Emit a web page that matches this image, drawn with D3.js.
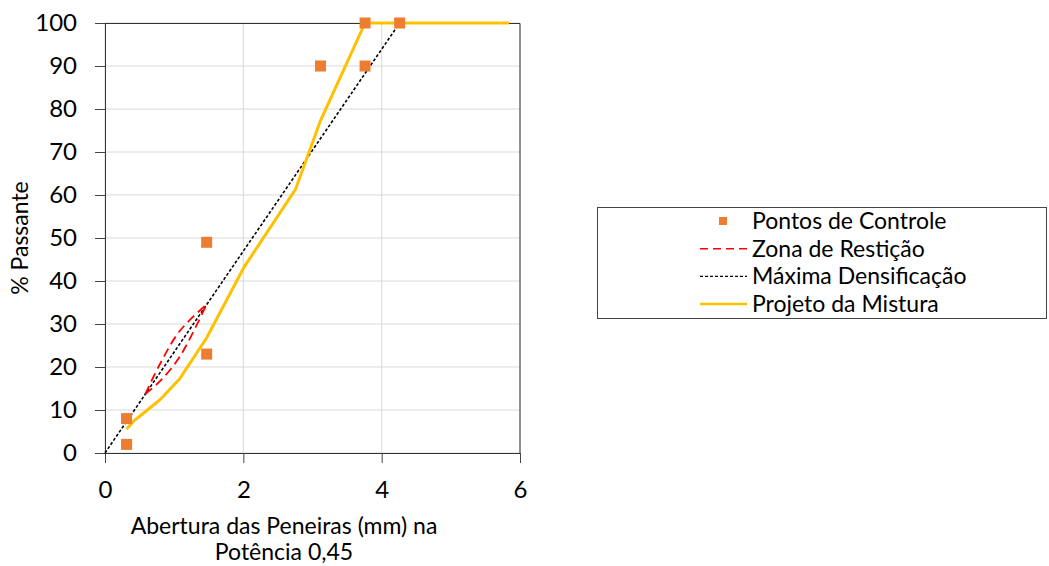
<!DOCTYPE html>
<html>
<head>
<meta charset="utf-8">
<script src="https://cdn.jsdelivr.net/npm/d3@7"></script>
<style>
  body { margin: 0; background: #fff; }
  text { font-family: Lato, "Open Sans", sans-serif; fill: #000; }
</style>
</head>
<body>
<div id="chart"></div>
<script>
// Control points (sieve opening ^0.45, % passing)
var controlX = [0.312, 0.312, 1.47, 1.47, 3.116, 3.76, 3.76, 4.26];
var controlY = [2, 8, 23, 49, 90, 90, 100, 100];

// Restricted zone (upper and lower bounds)
var zoneX = [0.582, 0.795, 1.077, 1.47];
var zoneUpper = [13.7, 20.7, 28.3, 34.6];
var zoneLower = [13.7, 16.7, 22.3, 34.6];

// Maximum density line
var densX = [0, 4.26];
var densY = [0, 100];

// Mix design
var mixX = [0.312, 0.426, 0.582, 0.795, 1.077, 1.47, 2.017, 2.754, 3.116, 3.76, 4.26, 5.84];
var mixY = [5.6, 7.6, 9.6, 12.4, 17.2, 26.8, 43.4, 61.3, 77.3, 100, 100, 100];

var xTicks = [0, 2, 4, 6];
var yTicks = [0, 10, 20, 30, 40, 50, 60, 70, 80, 90, 100];

var legendItems = ["Pontos de Controle", "Zona de Restição", "Máxima Densificação", "Projeto da Mistura"];

var svgWidth = 1049, svgHeight = 566;
var margin = { top: 23, left: 105, right: 529, bottom: 113 };
var chartWidth = svgWidth - margin.left - margin.right;
var chartHeight = svgHeight - margin.top - margin.bottom;

var svg = d3.select("#chart").append("svg")
  .attr("width", svgWidth)
  .attr("height", svgHeight);

var chartGroup = svg.append("g")
  .attr("transform", `translate(${margin.left}, ${margin.top})`);

var x = d3.scaleLinear().domain([0, 6]).range([0, chartWidth]);
var y = d3.scaleLinear().domain([0, 100]).range([chartHeight, 0]);

// gridlines
chartGroup.append("g")
  .selectAll("line.h")
  .data(yTicks)
  .enter().append("line")
  .attr("x1", 0).attr("x2", chartWidth)
  .attr("y1", d => y(d)).attr("y2", d => y(d))
  .attr("stroke", "#d9d9d9").attr("stroke-width", 1);
chartGroup.append("g")
  .selectAll("line.v")
  .data(xTicks)
  .enter().append("line")
  .attr("x1", d => x(d)).attr("x2", d => x(d))
  .attr("y1", 0).attr("y2", chartHeight)
  .attr("stroke", "#d9d9d9").attr("stroke-width", 1);

// plot border (top and right)
chartGroup.append("path")
  .attr("d", `M0,0.5H${chartWidth}V${chartHeight}`)
  .attr("fill", "none").attr("stroke", "#333").attr("stroke-width", 1);

// axes
var xAxis = d3.axisBottom(x).tickValues(xTicks).tickFormat(d3.format("d")).tickSize(10).tickPadding(18);
var yAxis = d3.axisLeft(y).tickValues(yTicks).tickSize(10).tickPadding(18);

var gx = chartGroup.append("g")
  .attr("transform", `translate(0, ${chartHeight})`)
  .call(xAxis);
var gy = chartGroup.append("g").call(yAxis);

[gx, gy].forEach(function(g) {
  g.select(".domain").attr("stroke", "#333");
  g.selectAll(".tick line").attr("stroke", "#444");
  g.selectAll(".tick text").style("font-size", "24px").style("font-family", "Lato, sans-serif").attr("fill", "#000");
});

// Max density (dotted black)
var densData = densX.map((d, i) => [d, densY[i]]);
chartGroup.append("path")
  .datum(densData)
  .attr("d", d3.line().x(d => x(d[0])).y(d => y(d[1])))
  .attr("fill", "none").attr("stroke", "#000")
  .attr("stroke-width", 1.6).attr("stroke-dasharray", "3,2");

// Restricted zone (red dashed)
[zoneUpper, zoneLower].forEach(function(bound) {
  chartGroup.append("path")
    .datum(zoneX.map((d, i) => [d, bound[i]]))
    .attr("d", d3.line().curve(d3.curveCatmullRom).x(d => x(d[0])).y(d => y(d[1])))
    .attr("fill", "none").attr("stroke", "#ff0000")
    .attr("stroke-width", 1.8).attr("stroke-dasharray", "9,5");
});

// Mix design (yellow)
chartGroup.append("path")
  .datum(mixX.map((d, i) => [d, mixY[i]]))
  .attr("d", d3.line().x(d => x(d[0])).y(d => y(d[1])))
  .attr("fill", "none").attr("stroke", "#ffc000")
  .attr("stroke-width", 3);

// Control points
var ms = 11;
chartGroup.selectAll("rect.cp")
  .data(controlX.map((d, i) => [d, controlY[i]]))
  .enter().append("rect")
  .attr("class", "cp")
  .attr("x", d => x(d[0]) - ms / 2)
  .attr("y", d => y(d[1]) - ms / 2)
  .attr("width", ms).attr("height", ms)
  .attr("fill", "#ed7d31");

// Axis labels
chartGroup.append("text")
  .attr("transform", "rotate(-90)")
  .attr("x", 0 - 215)
  .attr("y", -85)
  .attr("dy", "0.35em")
  .attr("text-anchor", "middle")
  .style("font-size", "23px")
  .text("% Passante");

var xt = svg.append("text")
  .attr("text-anchor", "middle")
  .style("font-size", "23px");
xt.append("tspan").attr("x", 284).attr("y", 534).text("Abertura das Peneiras (mm) na");
xt.append("tspan").attr("x", 284).attr("y", 560).text("Potência 0,45");

// Legend
var legend = svg.append("g");
legend.append("rect")
  .attr("x", 597.5).attr("y", 207.5)
  .attr("width", 449).attr("height", 111)
  .attr("fill", "#fff").attr("stroke", "#444").attr("stroke-width", 1);

var rowY = d3.scalePoint().domain(legendItems).range([221, 304]);
legendItems.forEach(function(name, i) {
  var cy = rowY(name);
  if (i === 0) {
    legend.append("rect").attr("x", 719).attr("y", cy - 4).attr("width", 8).attr("height", 8).attr("fill", "#ed7d31");
  } else {
    var st = [null,
      { c: "#ff0000", w: 1.5, da: "8,5" },
      { c: "#000", w: 1.2, da: "3,2" },
      { c: "#ffc000", w: 2.5, da: null }][i];
    legend.append("line")
      .attr("x1", 700).attr("x2", 747).attr("y1", cy).attr("y2", cy)
      .attr("stroke", st.c).attr("stroke-width", st.w)
      .attr("stroke-dasharray", st.da);
  }
  legend.append("text")
    .attr("x", 752).attr("y", cy).attr("dy", "0.35em")
    .style("font-size", "23px")
    .text(name);
});
</script>
</body>
</html>
